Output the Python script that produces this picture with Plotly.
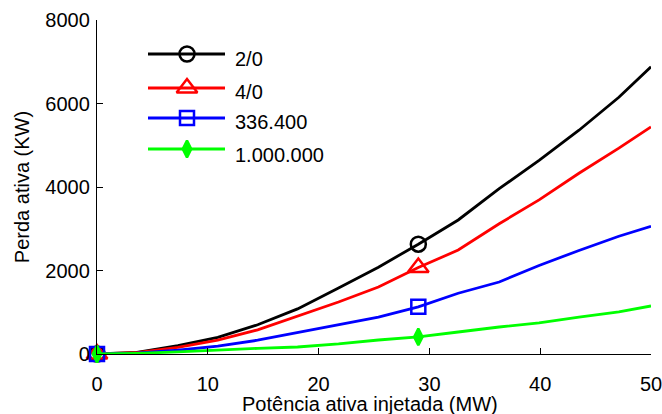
import plotly.graph_objects as go

# ---- data -------------------------------------------------------------
x_mw = [0, 3.6, 7.3, 10.9, 14.5, 18.1, 21.8, 25.4, 29, 32.6, 36.3, 39.9, 43.5, 47.1, 50]

loss_2_0 = [0, 40, 200, 400, 700, 1080, 1580, 2080, 2630, 3210, 3960, 4640, 5360, 6150, 6880]
loss_4_0 = [0, 35, 160, 335, 580, 900, 1245, 1605, 2070, 2490, 3120, 3690, 4330, 4930, 5440]
loss_336 = [0, 20, 90, 190, 330, 510, 695, 886, 1130, 1455, 1725, 2120, 2480, 2820, 3060]
loss_1000 = [0, 15, 50, 100, 135, 168, 240, 335, 410, 527, 647, 743, 886, 1010, 1150]

series_names = ["2/0", "4/0", "336.400", "1.000.000"]
series_values = [loss_2_0, loss_4_0, loss_336, loss_1000]
marker_idx = [0, 8]  # points that carry a marker

x_ticks = [0, 10, 20, 30, 40, 50]
y_ticks = [0, 2000, 4000, 6000, 8000]

x_title = "Potência ativa injetada (MW)"
y_title = "Perda ativa (KW)"

# ---- styles -----------------------------------------------------------
colors = ["#000000", "#ff0000", "#0000ff", "#00ff00"]
symbols = ["circle-open", "triangle-up-open", "square-open", "diamond-tall"]
msizes = [15, 18, 14, 12]
FONT = "Liberation Sans, Arial, Helvetica, sans-serif"
LW = 2.8

fig = go.Figure()

for name, vals, c, sym, ms in zip(series_names, series_values, colors, symbols, msizes):
    fig.add_trace(go.Scatter(
        x=x_mw, y=vals, mode="lines", name=name,
        line=dict(color=c, width=LW), showlegend=False,
    ))
    fig.add_trace(go.Scatter(
        x=[x_mw[i] for i in marker_idx], y=[vals[i] for i in marker_idx],
        mode="markers", name=name, showlegend=False, cliponaxis=False,
        marker=dict(symbol=sym, size=ms, color=c, line=dict(color=c, width=2.5)),
    ))

# ---- manual legend (on an overlay axis measured in pixels) -----------
leg_rows = [54, 88, 118, 149]
leg_text_y = [59, 92, 122, 155]
for name, c, sym, ms, ly, ty in zip(series_names, colors, symbols, msizes, leg_rows, leg_text_y):
    fig.add_trace(go.Scatter(
        x=[148, 225], y=[ly, ly], xaxis="x2", yaxis="y2", mode="lines",
        line=dict(color=c, width=LW), showlegend=False, hoverinfo="skip",
    ))
    fig.add_trace(go.Scatter(
        x=[187], y=[ly], xaxis="x2", yaxis="y2", mode="markers",
        marker=dict(symbol=sym, size=ms, color=c, line=dict(color=c, width=2.5)),
        showlegend=False, hoverinfo="skip",
    ))
    fig.add_annotation(
        x=233, y=ty, xref="x2", yref="y2", text=name, showarrow=False,
        xanchor="left", yanchor="middle", font=dict(family=FONT, size=20, color="#000"),
    )

# x-axis title placed as an annotation in paper coordinates
fig.add_annotation(
    x=0.493, y=-0.15, xref="paper", yref="paper", text=x_title, showarrow=False,
    xanchor="center", yanchor="middle", font=dict(family=FONT, size=20, color="#000"),
)

axis_common = dict(
    showgrid=False, zeroline=False, showline=True, linecolor="#000", linewidth=1.3,
    ticks="inside", ticklen=6, tickwidth=1.3, tickcolor="#000",
    tickfont=dict(family=FONT, size=20, color="#000"),
    title_font=dict(family=FONT, size=20, color="#000"),
    ticklabeloverflow="allow", automargin=False,
)

fig.update_layout(
    width=662, height=414,
    margin=dict(l=97, r=11, t=20, b=60),
    paper_bgcolor="#fff", plot_bgcolor="#fff",
    showlegend=False,
    xaxis=dict(range=[0, 50], tickvals=x_ticks, ticktext=[str(v) for v in x_ticks],
               ticklabelstandoff=12, **axis_common),
    yaxis=dict(range=[0, 8000], tickvals=y_ticks, ticktext=[str(v) for v in y_ticks],
               title=dict(text=y_title, standoff=10), ticklabelstandoff=2, **axis_common),
    xaxis2=dict(overlaying="x", range=[97, 651], visible=False, fixedrange=True),
    yaxis2=dict(overlaying="y", range=[354, 20], visible=False, fixedrange=True),
)

fig.write_html("out.html")
